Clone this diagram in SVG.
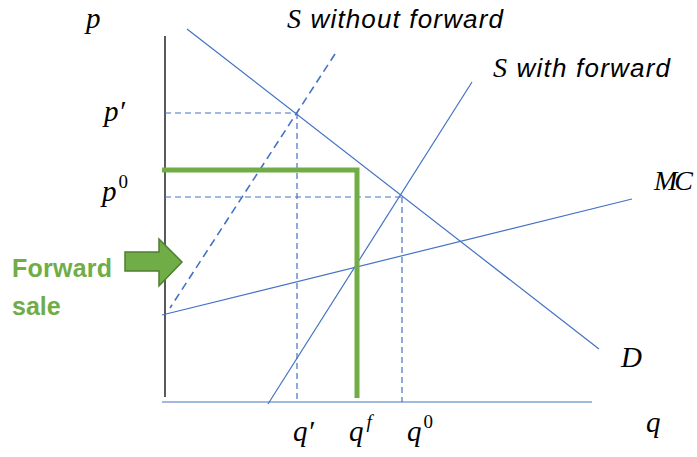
<svg xmlns="http://www.w3.org/2000/svg" width="697" height="457" viewBox="0 0 697 457">
<style>
.ln{stroke:#4472C4;stroke-width:1.2;fill:none}
.dash{stroke:#4472C4;stroke-width:1.2;stroke-dasharray:6 4;fill:none}
.dashb{stroke:#4472C4;stroke-width:1.6;stroke-dasharray:8 5;fill:none}
.math{font-family:"Liberation Serif","DejaVu Serif",serif;font-style:italic;font-size:29px;fill:#000}
.sans{font-family:"Liberation Sans","Open Sans",sans-serif;font-style:italic;font-size:26px;fill:#000}
.sup{font-size:19px;font-style:normal}
.grn{font-family:"Liberation Sans","Open Sans",sans-serif;font-weight:bold;font-size:25px;fill:#70AD47}
</style>
<rect width="697" height="457" fill="#fff"/>
<g id="axes">
<line x1="165" y1="36" x2="165" y2="397" stroke="#000" stroke-width="1.3"/>
<line x1="162" y1="402" x2="592" y2="402" class="ln"/>
</g>
<g id="connectors">
<line id="demand" x1="187" y1="29" x2="599" y2="349" class="ln"/>
<line id="mc" x1="162" y1="315" x2="632" y2="199" class="ln"/>
<line id="s-with" x1="268" y1="404" x2="472" y2="82" class="ln"/>
<line id="s-without" x1="335" y1="54" x2="170" y2="308" class="dashb"/>
<line x1="165" y1="113" x2="297" y2="113" class="dash"/>
<line x1="297" y1="113" x2="297" y2="402" class="dash"/>
<line x1="165" y1="197" x2="402" y2="197" class="dash"/>
<line x1="402" y1="197" x2="402" y2="402" class="dash"/>
<polyline points="162,170 357,170 357,398" fill="none" stroke="#70AD47" stroke-width="5"/>
</g>
<g id="arrow">
<polygon points="125,252 159,252 159,239 182,262 159,286 159,271 125,271" fill="#70AD47" stroke="#507E32" stroke-width="1.5"/>
</g>
<g id="labels">
<text class="math" x="86" y="28">p</text>
<text class="math" x="104" y="121">p′</text>
<text class="math" x="102" y="201">p<tspan class="sup" dx="2" dy="-13">0</tspan></text>
<text class="math" x="293" y="441">q′</text>
<text class="math" x="349" y="441">q<tspan class="sup" style="font-style:italic" dx="3" dy="-13">f</tspan></text>
<text class="math" x="407" y="441">q<tspan class="sup" dx="2" dy="-13">0</tspan></text>
<text class="math" x="646" y="432">q</text>
<text class="math" x="621" y="367">D</text>
<text class="math" x="654" y="190" style="font-size:28px" textLength="39">MC</text>
<text class="sans" x="287" y="28" textLength="216"><tspan style="font-family:'Liberation Serif',serif;font-size:28px">S</tspan> without forward</text>
<text class="sans" x="493" y="77" textLength="177"><tspan style="font-family:'Liberation Serif',serif;font-size:28px">S</tspan> with forward</text>
<text class="grn" x="12" y="277" textLength="100">Forward</text>
<text class="grn" x="12" y="315">sale</text>
</g>
</svg>
